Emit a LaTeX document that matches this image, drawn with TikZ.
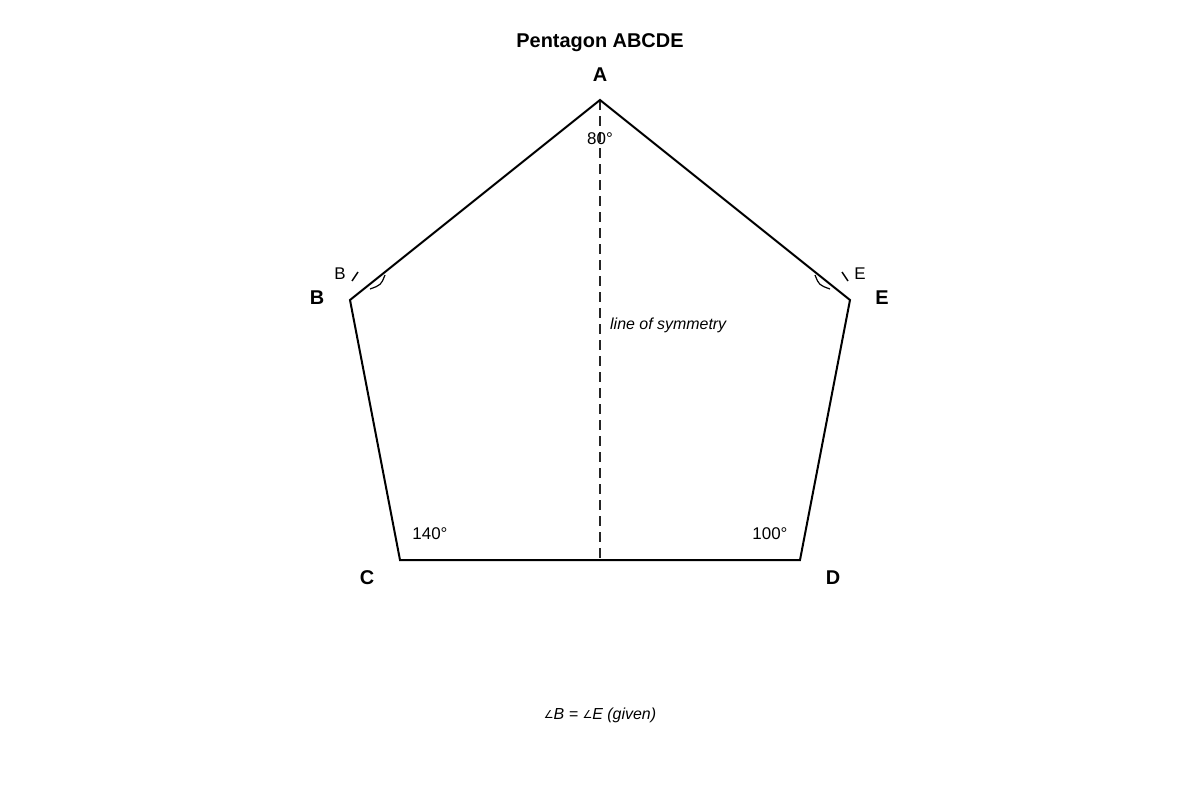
\documentclass[tikz,border=0pt]{standalone}
\usepackage{fontspec}
\setmainfont{Liberation Sans}
\newfontfamily\symfont{DejaVu Sans}
\usetikzlibrary{positioning, calc}
\tikzset{
    side/.style={line width=2bp, black, line join=miter},
    symline/.style={line width=1.5bp, dash pattern=on 10bp off 6bp, black!85},
    tickmark/.style={line width=1.5bp, black},
    vlabel/.style={font=\fontsize{20}{22}\selectfont\bfseries, inner sep=0pt},
    anglabel/.style={font=\fontsize{17}{19}\selectfont, inner sep=0pt},
    smalllabel/.style={font=\fontsize{17}{19}\selectfont, inner sep=0pt},
    note/.style={font=\fontsize{16}{18}\selectfont\itshape, inner sep=0pt},
    titletext/.style={font=\fontsize{20}{22}\selectfont\bfseries, inner sep=0pt},
}
\newcommand{\ang}{{\symfont\fontsize{11}{12}\selectfont\raisebox{0.5pt}{∠}}}

\begin{document}
\begin{tikzpicture}[x=1bp, y=-1bp]
    \useasboundingbox (0, 0) rectangle (1200, 800);

    % vertices
    \coordinate (A) at (600, 100);
    \coordinate (B) at (350, 300);
    \coordinate (C) at (400, 560);
    \coordinate (D) at (800, 560);
    \coordinate (E) at (850, 300);
    \coordinate (M) at (600, 560);

    \node[titletext] (title) at (600, 43) {Pentagon ABCDE};

    % pentagon and symmetry axis
    \draw[symline] (A) -- (M);
    \draw[side] (A) -- (B) -- (C) -- (D) -- (E) -- cycle;

    % vertex labels
    \node[vlabel] (labA) at (600, 75) {A};
    \node[vlabel] (labB) at (317, 298) {B};
    \node[vlabel] (labC) at (367, 578) {C};
    \node[vlabel] (labD) at (833, 578) {D};
    \node[vlabel] (labE) at (882, 298) {E};

    % angle marks at B and E
    \draw[tickmark] (352, 281) -- (358, 272);
    \draw[tickmark] (848, 281) -- (842, 272);
    \draw[line width=1.2bp] (370, 289) .. controls (381, 285) .. (385, 275);
    \draw[line width=1.2bp] (830, 289) .. controls (819, 285) .. (815, 275);
    \node[smalllabel] (smB) at (340, 274) {B};
    \node[smalllabel] (smE) at (860, 274) {E};

    % angle values
    \node[anglabel] (angA) at (600, 139) {80°};
    \node[anglabel] (angC) at (430, 534) {140°};
    \node[anglabel] (angD) at (770, 534) {100°};

    \node[note, anchor=west] (sym) at (610, 325) {line of symmetry};
    \node[note] (given) at (600, 715) {\ang B = \ang E (given)};
\end{tikzpicture}
\end{document}
